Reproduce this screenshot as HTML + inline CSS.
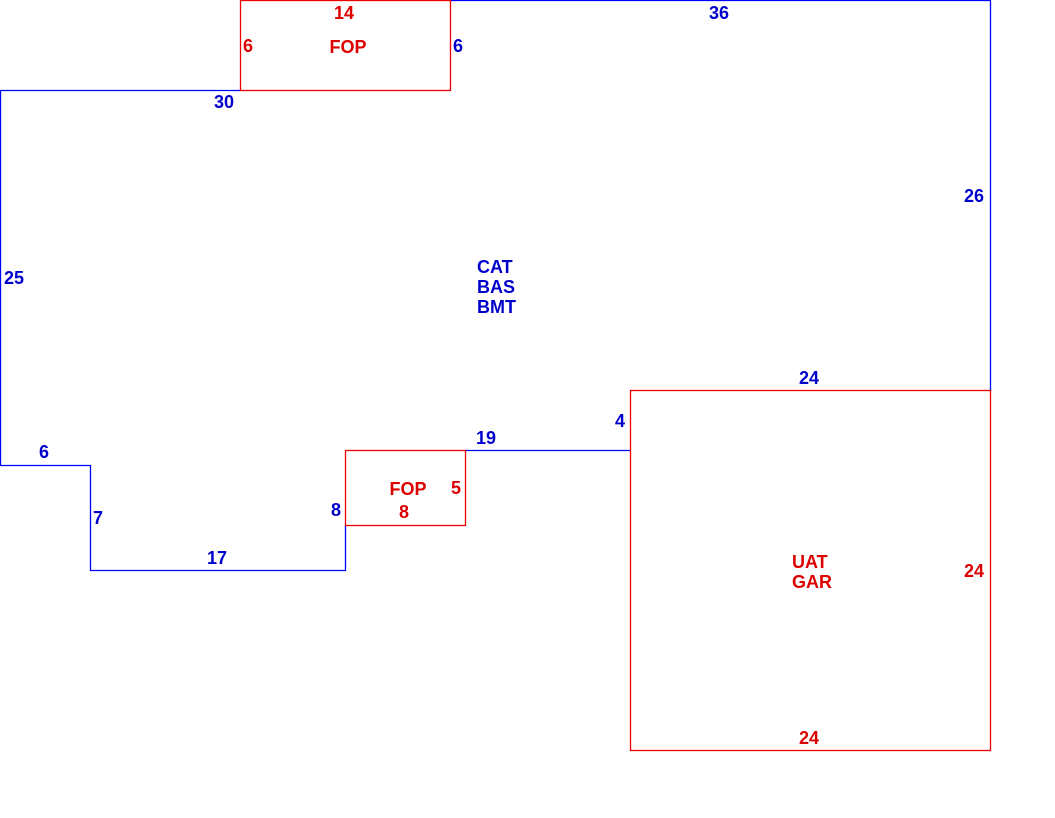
<!DOCTYPE html>
<html><head><meta charset="utf-8"><style>
html,body{margin:0;padding:0;background:#fff;}
svg{display:block;}
text{font-family:"Liberation Sans",Arial,sans-serif;font-weight:bold;font-size:18px;}
.b{fill:#0000cc;} .r{fill:#dd0000;}
</style></head><body>
<svg width="1055" height="818" xmlns="http://www.w3.org/2000/svg">
<g fill="none" stroke-width="1.3">
<polyline stroke="#0000ff" points="450,0.5 990.5,0.5 990.5,390"/>
<polyline stroke="#0000ff" points="240,90.5 0.5,90.5 0.5,465.5 90.5,465.5 90.5,570.5 345.5,570.5 345.5,525"/>
<line stroke="#0000ff" x1="465" y1="450.5" x2="630" y2="450.5"/>
<rect stroke="#ee0000" x="240.5" y="0.5" width="210" height="90"/>
<rect stroke="#ee0000" x="345.5" y="450.5" width="120" height="75"/>
<rect stroke="#ee0000" x="630.5" y="390.5" width="360" height="360"/>
</g>
<text class="r" x="344" y="19" text-anchor="middle">14</text>
<text class="r" x="248" y="52" text-anchor="middle">6</text>
<text class="r" x="348" y="53" text-anchor="middle">FOP</text>
<text class="b" x="458" y="52" text-anchor="middle">6</text>
<text class="b" x="719" y="19" text-anchor="middle">36</text>
<text class="b" x="224" y="108" text-anchor="middle">30</text>
<text class="b" x="974" y="202" text-anchor="middle">26</text>
<text class="b" x="14" y="284" text-anchor="middle">25</text>
<text class="b" x="477" y="273">CAT</text>
<text class="b" x="477" y="293">BAS</text>
<text class="b" x="477" y="313">BMT</text>
<text class="b" x="809" y="384" text-anchor="middle">24</text>
<text class="b" x="620" y="427" text-anchor="middle">4</text>
<text class="b" x="486" y="444" text-anchor="middle">19</text>
<text class="b" x="44" y="458" text-anchor="middle">6</text>
<text class="r" x="408" y="495" text-anchor="middle">FOP</text>
<text class="r" x="456" y="494" text-anchor="middle">5</text>
<text class="r" x="404" y="518" text-anchor="middle">8</text>
<text class="b" x="336" y="516" text-anchor="middle">8</text>
<text class="b" x="98" y="524" text-anchor="middle">7</text>
<text class="b" x="217" y="564" text-anchor="middle">17</text>
<text class="r" x="792" y="568">UAT</text>
<text class="r" x="792" y="588">GAR</text>
<text class="r" x="974" y="577" text-anchor="middle">24</text>
<text class="r" x="809" y="744" text-anchor="middle">24</text>
</svg>
</body></html>
